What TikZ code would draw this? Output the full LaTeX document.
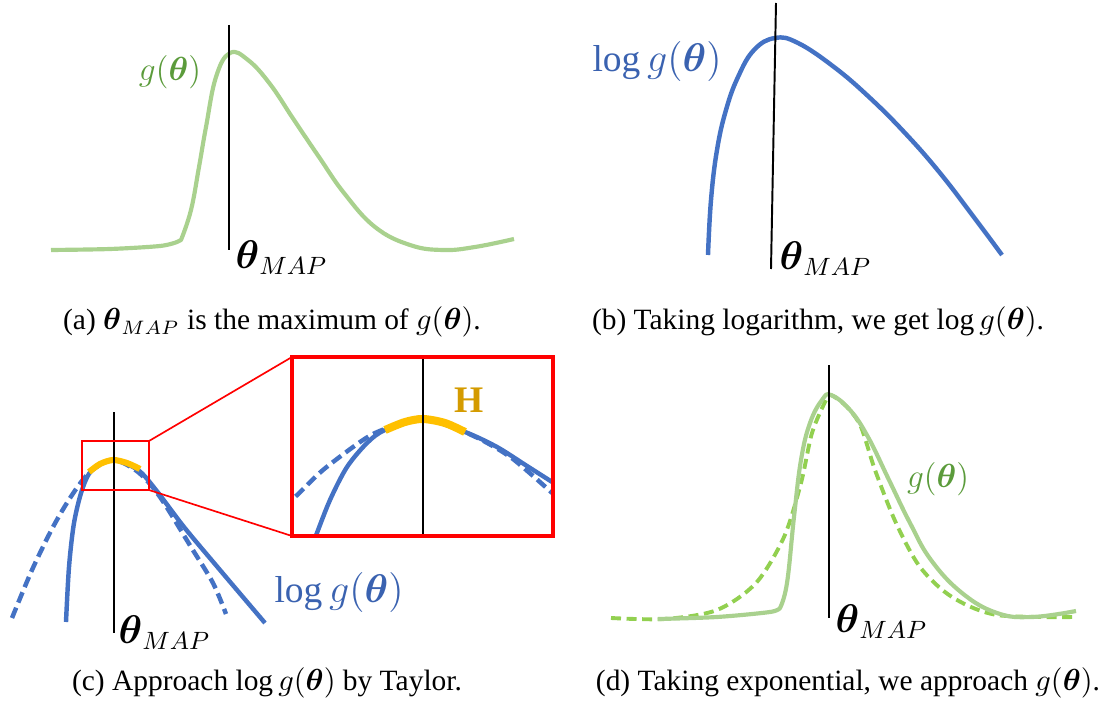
\documentclass[tikz,border=0pt]{standalone}
\usepackage{amsmath,amssymb}
\usepackage{fontspec}
\setmainfont{Liberation Serif}
\usepackage{tikz}

\definecolor{curvegreen}{HTML}{A9D18E}
\definecolor{dashgreen}{HTML}{92D050}
\definecolor{textgreen}{HTML}{5B9B3B}
\definecolor{curveblue}{HTML}{4472C4}
\definecolor{textblue}{HTML}{3A62B0}
\definecolor{hessyellow}{HTML}{FFC000}
\definecolor{hessgold}{HTML}{D49B00}

\begin{document}
\begin{tikzpicture}[x=0.36pt,y=-0.36pt,
    gcurve/.style={curvegreen,line width=1.5pt,line join=round},
    gdash/.style={dashgreen,line width=1.4pt,dash pattern=on 3.6pt off 2pt},
    bcurve/.style={curveblue,line width=1.6pt,line join=round},
    bdash/.style={curveblue,line width=1.6pt,dash pattern=on 4pt off 2pt},
    mapline/.style={black,line width=0.7pt},
    zoombox/.style={red,line width=0.6pt},
    maplabel/.style={anchor=west,inner sep=0pt,font=\fontsize{13.5}{15}\selectfont},
    caption/.style={inner sep=0pt,font=\fontsize{10.6}{12}\selectfont}]
  \useasboundingbox (0,0) rectangle (1102,706);

  % (a) g(theta)
  \draw[gcurve] plot[smooth] coordinates {(51,250) (110,249) (160,246) (177,242)}
    -- plot[smooth,tension=0.7] coordinates {(181,240) (191,210) (199,167) (206,127) (216,77)
      (230,53) (248,60) (270,84) (294,120) (319,157) (344,193) (375,227)
      (410,245) (443,250) (475,247) (514,239)};
  \draw[mapline] (229,25) -- (229,250);
  \node[textgreen,font=\fontsize{11.5}{13}\selectfont] (labela) at (170,72) {$g(\boldsymbol{\theta})$};
  \node[maplabel] (mapa) at (235,258) {$\boldsymbol{\theta}_{MAP}$};
  \node[caption] (capa) at (272,322) {(a) $\boldsymbol{\theta}_{MAP}$ is the maximum of $g(\boldsymbol{\theta})$.};

  % (b) log g(theta)
  \draw[bcurve] plot[smooth,tension=0.7] coordinates {(708,255) (711,200) (717,150) (726,110)
      (738,77) (754,50) (775,38) (798,43) (834,67) (869,97) (905,133) (940,173)
      (976,220) (1002,255)};
  \draw[mapline] (776,3) -- (771,269);
  \node[textblue,font=\fontsize{13.5}{15}\selectfont] (labelb) at (657,62) {$\log g(\boldsymbol{\theta})$};
  \node[maplabel] (mapb) at (779,259) {$\boldsymbol{\theta}_{MAP}$};
  \node[caption] (capb) at (818,322) {(b) Taking logarithm, we get $\log g(\boldsymbol{\theta})$.};

  % (c) Taylor
  \draw[bdash] plot[smooth] coordinates {(12,618) (32,570) (53,527) (72,495) (90,472)
      (113,460) (138,472) (160,497) (191,547) (213,583) (226,614)};
  \draw[bcurve] plot[smooth] coordinates {(66,622) (69,567) (74,523) (82,490) (92,470)
      (113,460) (138,470) (156,490) (184,527) (220,570) (265,623)};
  \draw[hessyellow,line width=2.2pt] plot[smooth] coordinates {(89,472) (100,464) (113,460) (127,463) (140,469)};
  \draw[mapline] (114,412) -- (114,633);
  \draw[zoombox] (82,441) rectangle (149,490);
  \coordinate (smallne) at (149,441);
  \coordinate (smallse) at (149,490);
  \coordinate (bignw) at (292,357);
  \coordinate (bigsw) at (292,536);
  \draw[zoombox] (smallne) -- (bignw);
  \draw[zoombox] (smallse) -- (bigsw);
  \begin{scope}
    \clip (292,357) rectangle (553,536);
    \draw[bdash] plot[smooth] coordinates {(282,506) (295,497) (323,470) (363,440)
        (385,429) (423,419) (465,432) (480,439) (513,459) (560,500)};
    \draw[bcurve] plot[smooth] coordinates {(310,550) (315,538) (330,500) (347,467)
        (367,443) (385,430) (423,419) (465,432) (497,447) (527,466) (560,487)};
  \end{scope}
  \draw[hessyellow,line width=2.9pt] plot[smooth] coordinates {(385,430) (405,422) (423,419) (445,423) (465,432)};
  \draw[mapline] (423,357) -- (423,536);
  \draw[red,line width=1.1pt] (bignw) rectangle (553,536);
  \node[hessgold,font=\fontsize{13.5}{15}\selectfont\bfseries] (hess) at (469,400) {H};
  \node[textblue,font=\fontsize{13.5}{15}\selectfont] (labelc) at (339,592) {$\log g(\boldsymbol{\theta})$};
  \node[maplabel] (mapc) at (118,633) {$\boldsymbol{\theta}_{MAP}$};
  \node[caption] (capc) at (267,683) {(c) Approach $\log g(\boldsymbol{\theta})$ by Taylor.};

  % (d) back to g(theta)
  \draw[gdash] plot[smooth] coordinates {(611,618) (665,619) (717,610) (756,583)
      (784,537) (801,483) (812,433) (826,400) (831,395) (847,407) (861,427)
      (875,470) (896,523) (920,567) (952,597) (997,615) (1076,617)};
  \draw[gcurve] plot[smooth] coordinates {(658,619) (717,617) (770,612) (780,608)}
    -- plot[smooth,tension=0.7] coordinates {(780,608) (787,583) (794,517) (801,460) (810,423)
      (822,400) (831,395) (850,410) (868,437) (889,480) (910,523) (931,560)
      (962,593) (997,613) (1032,617) (1076,611)};
  \draw[mapline] (829,365) -- (829,618);
  \node[textgreen,font=\fontsize{11.5}{13}\selectfont] (labeld) at (938,479) {$g(\boldsymbol{\theta})$};
  \node[maplabel] (mapd) at (835,622) {$\boldsymbol{\theta}_{MAP}$};
  \node[caption] (capd) at (848,683) {(d) Taking exponential, we approach $g(\boldsymbol{\theta})$.};
\end{tikzpicture}
\end{document}
